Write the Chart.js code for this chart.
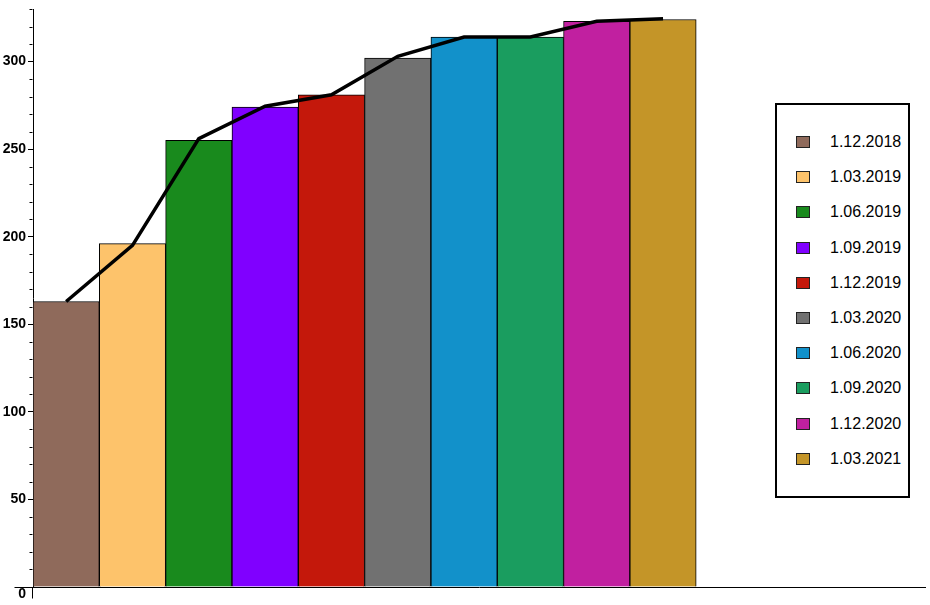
<!DOCTYPE html>
<html>
<head>
<meta charset="utf-8">
<script src="https://cdn.jsdelivr.net/npm/chart.js@4/dist/chart.umd.min.js"></script>
<style>
html,body{margin:0;padding:0;background:#fff;}
#wrap{position:relative;width:930px;height:605px;overflow:hidden;}
#legend{position:absolute;left:775px;top:103px;width:135px;height:395px;box-sizing:border-box;border:2px solid #000;background:#fff;
  font-family:"Liberation Sans",Arial,sans-serif;font-size:16px;color:#000;}
.item{position:absolute;left:19px;height:16px;display:flex;align-items:center;white-space:nowrap;line-height:16px;}
.sw{width:12px;height:10px;border:1px solid #222;margin-right:20px;flex:none;}
</style>
</head>
<body>
<div id="wrap">
<canvas id="c" width="930" height="605"></canvas>
<div id="legend"></div>
</div>
<script>
// ---- data ----
const categories = ['1.12.2018','1.03.2019','1.06.2019','1.09.2019','1.12.2019','1.03.2020','1.06.2020','1.09.2020','1.12.2020','1.03.2021'];
const barValues  = [163, 196, 255, 274, 281, 302, 314, 314, 323, 324];
const lineValues = [163, 195, 256, 274.5, 281, 303, 314, 314, 323, 324.5];
const yTickValues = [0, 50, 100, 150, 200, 250, 300];
const barColors = ['#8F6A5B','#FDC36B','#198A1D','#8000FF','#C4180B','#717171','#1291CA','#1A9D5F','#C120A0','#C49528'];

// ---- legend (HTML) ----
const legend = document.getElementById('legend');
categories.forEach((lab, i) => {
  const d = document.createElement('div');
  d.className = 'item';
  d.style.top = (29 + 35.2 * i) + 'px';
  const s = document.createElement('span');
  s.className = 'sw';
  s.style.background = barColors[i];
  const t = document.createElement('span');
  t.textContent = lab;
  d.appendChild(s); d.appendChild(t);
  legend.appendChild(d);
});

// ---- axis decorations: minor ticks and crossing extensions ----
const axisDeco = {
  id: 'axisDeco',
  afterDraw(chart) {
    const {ctx, scales: {x, y}} = chart;
    const left = Math.round(x.left) - 0.5;
    const y0 = Math.round(y.getPixelForValue(0)) + 0.5;
    ctx.save();
    ctx.strokeStyle = '#000';
    ctx.lineWidth = 1;
    ctx.beginPath();
    ctx.moveTo(left - 18, y0); ctx.lineTo(left, y0);
    ctx.moveTo(left, y0); ctx.lineTo(left, y0 + 11);
    for (let v = 10; v <= 330; v += 10) {
      if (v % 50 === 0) continue;
      const py = Math.round(y.getPixelForValue(v)) + 0.5;
      ctx.moveTo(left - 3, py); ctx.lineTo(left, py);
    }
    ctx.stroke();
    ctx.restore();
  }
};

const tickFont = {family: '"Liberation Sans Narrow","Arial Narrow","Liberation Sans",Arial,sans-serif', size: 14, weight: 'bold', lineHeight: 1.0};

new Chart(document.getElementById('c'), {
  data: {
    datasets: [
      {
        type: 'line',
        order: 0,
        data: lineValues.map((v, i) => ({x: i + 1, y: v})),
        borderColor: '#000',
        borderWidth: 3.5,
        pointRadius: 0,
        tension: 0,
        fill: false
      },
      {
        type: 'bar',
        order: 1,
        data: barValues.map((v, i) => ({x: i + 1, y: v})),
        backgroundColor: barColors,
        borderColor: '#000',
        borderWidth: 1,
        categoryPercentage: 1,
        barPercentage: 1
      }
    ]
  },
  options: {
    responsive: false,
    animation: false,
    layout: {padding: {left: 0, right: 5, top: 6, bottom: 0}},
    plugins: {legend: {display: false}, tooltip: {enabled: false}},
    scales: {
      x: {
        type: 'linear',
        offset: false,
        min: 0.5,
        max: 13.95,
        ticks: {display: false},
        grid: {display: false, drawTicks: false, offset: false},
        border: {display: true, color: '#000', width: 1},
        afterFit(s) { s.height = 18; }
      },
      y: {
        type: 'linear',
        min: 0,
        max: 330,
        afterBuildTicks(s) { s.ticks = yTickValues.map(v => ({value: v})); },
        ticks: {
          callback: v => v === 0 ? ['', '0'] : String(v),
          font: tickFont,
          color: '#000',
          padding: 2
        },
        grid: {drawOnChartArea: false, tickLength: 5, color: '#000'},
        border: {display: true, color: '#000', width: 1},
        afterFit(s) { s.width = 33; }
      }
    }
  },
  plugins: [axisDeco]
});
</script>
</body>
</html>
